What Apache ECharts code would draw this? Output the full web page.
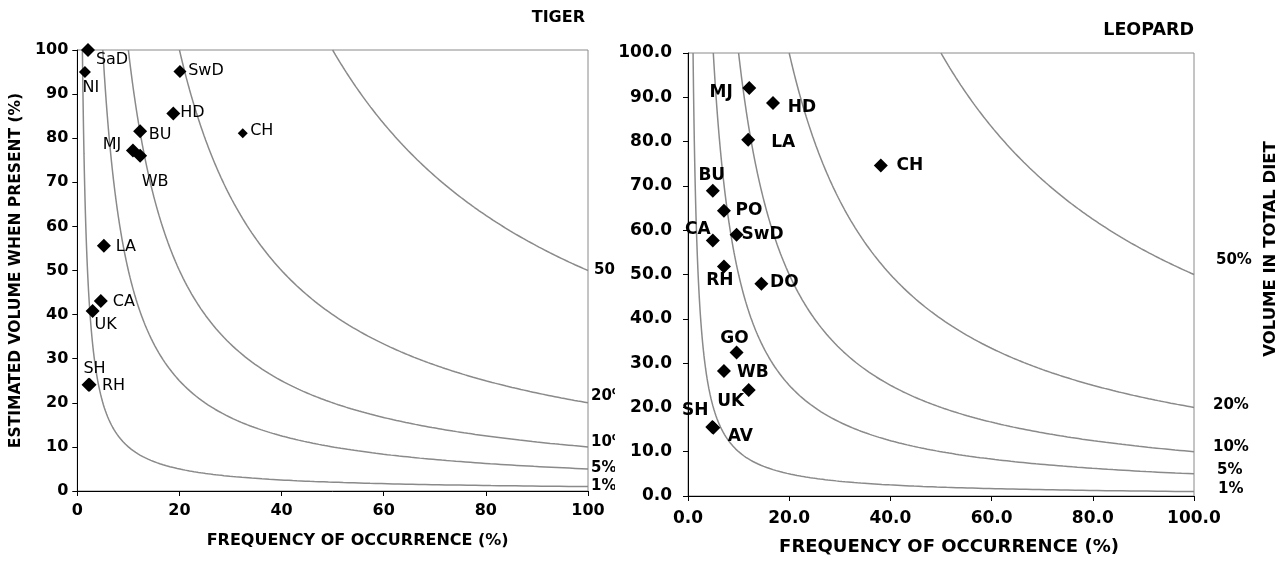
<!DOCTYPE html>
<html>
<head>
<meta charset="utf-8">
<script src="https://cdn.jsdelivr.net/npm/echarts@6/dist/echarts.min.js"></script>
<style>
  body { margin: 0; background: #fff; }
  #tiger { position: absolute; left: 0; top: 0; width: 615px; height: 563px; }
  #leopard { position: absolute; left: 615px; top: 0; width: 671px; height: 563px; }
</style>
</head>
<body>
<div id="tiger"></div>
<div id="leopard"></div>
<script>
// 数据
const tigerPrey = ['SaD', 'NI', 'SwD', 'HD', 'BU', 'CH', 'MJ', 'WB', 'LA', 'CA', 'UK', 'SH', 'RH']
const tigerFreq = [2.1, 1.5, 20.1, 18.8, 12.3, 32.4, 10.9, 12.3, 5.2, 4.6, 3.0, 2.2, 2.4]
const tigerVol = [100, 95, 95.1, 85.6, 81.6, 81.1, 77.2, 76.0, 55.6, 43.1, 40.8, 24.1, 24.1]

const leopardPrey = ['MJ', 'HD', 'LA', 'CH', 'BU', 'PO', 'SwD', 'CA', 'RH', 'DO', 'GO', 'WB', 'UK', 'SH', 'AV']
const leopardFreq = [12.1, 16.8, 11.9, 38.1, 4.9, 7.1, 9.6, 4.9, 7.1, 14.5, 9.6, 7.1, 12.0, 4.8, 5.0]
const leopardVol = [92.1, 88.7, 80.4, 74.6, 68.9, 64.4, 59.0, 57.7, 51.8, 47.9, 32.4, 28.2, 23.9, 15.6, 15.4]

// volume in total diet (%) isolines
const isoLevels = [1, 5, 10, 20, 50]
const isoLabels = ['1%', '5%', '10%', '20%', '50%']

const freqTicks = [0, 20, 40, 60, 80, 100]
const volTicks = [0, 10, 20, 30, 40, 50, 60, 70, 80, 90, 100]

const FONT = 'DejaVu Sans'

// label placement (text centre relative to marker)
const tigerLabelOffset = {
  SaD: [24, 10], NI: [6, 16], SwD: [26, -1], HD: [19, -1], BU: [20, 4], CH: [19, -3],
  MJ: [-21, -6], WB: [15, 26], LA: [22, 1], CA: [23, 1], UK: [13, 14], SH: [6, -16], RH: [24, 1]
}
const tigerSymbol = { CH: 10, NI: 12, SwD: 13 }
const leopardLabelOffset = {
  MJ: [-28, 5], HD: [29, 5], LA: [35, 3], CH: [29, 0], BU: [-1, -15], PO: [25, 0],
  SwD: [26, 0], CA: [-15, -11], RH: [-4, 14], DO: [23, -1], GO: [-2, -14], WB: [29, 2],
  UK: [-18, 11], SH: [-17, -16], AV: [27, 9]
}
const tigerIsoLabel = { 1: [3, 0], 5: [3, -1], 10: [3, -5], 20: [3, -7], 50: [6, 0] }
const leopardIsoLabel = { 1: [24, -2], 5: [23, -4], 10: [19, -5], 20: [19, -2], 50: [22, -14] }

function isoCurve (level) {
  const pts = []
  for (let i = 0; i <= 240; i++) {
    const x = level * Math.pow(100 / level, i / 240)
    pts.push([x, 100 * level / x])
  }
  return pts
}

function makeOption (cfg) {
  const series = isoLevels.map(level => ({
    type: 'line',
    data: isoCurve(level),
    showSymbol: false,
    silent: true,
    clip: true,
    lineStyle: { color: '#8a8a8a', width: 1.5 },
    z: 1
  }))
  series.push({
    type: 'scatter',
    symbolSize: 0,
    silent: true,
    itemStyle: { opacity: 1 },
    data: isoLevels.map((level, i) => ({
      name: isoLabels[i],
      value: [100, level],
      label: {
        distance: cfg.isoLabel[level][0],
        offset: [0, cfg.isoLabel[level][1]]
      }
    })),
    label: {
      show: true,
      position: 'right',
      formatter: '{b}',
      color: '#000',
      fontWeight: 'bold',
      fontSize: cfg.isoFont,
      fontFamily: FONT
    }
  })
  series.push({
    type: 'scatter',
    symbol: 'diamond',
    itemStyle: { color: '#000', opacity: 1 },
    z: 5,
    data: cfg.prey.map((name, i) => ({
      name: name,
      value: [cfg.freq[i], cfg.vol[i]],
      symbolSize: cfg.symbol[name] || 14,
      label: { offset: cfg.labelOffset[name] }
    })),
    label: {
      show: true,
      position: 'inside',
      formatter: '{b}',
      color: '#000',
      fontWeight: cfg.labelWeight,
      fontSize: cfg.labelFont,
      fontFamily: FONT
    }
  })
  return {
    animation: false,
    title: {
      text: cfg.title,
      right: cfg.titleRight,
      top: cfg.titleTop,
      textStyle: { color: '#000', fontWeight: 'bold', fontSize: cfg.titleFont, fontFamily: FONT }
    },
    grid: Object.assign({ show: true, borderColor: '#8a8a8a', borderWidth: 1 }, cfg.grid),
    xAxis: {
      type: 'value',
      min: freqTicks[0],
      max: freqTicks[freqTicks.length - 1],
      interval: freqTicks[1] - freqTicks[0],
      name: 'FREQUENCY OF OCCURRENCE (%)',
      nameLocation: 'middle',
      nameGap: cfg.xNameGap,
      nameTextStyle: { color: '#000', fontWeight: 'bold', fontSize: cfg.xNameFont, fontFamily: FONT, padding: [0, 0, 0, cfg.xNameShift] },
      axisLine: { show: true, onZero: false, lineStyle: { color: '#000', width: 1 } },
      axisTick: { show: true, length: 5, lineStyle: { color: '#000' } },
      splitLine: { show: false },
      axisLabel: {
        color: '#000', fontWeight: 'bold', fontSize: cfg.tickFont, fontFamily: FONT, margin: cfg.xMargin,
        formatter: v => v.toFixed(cfg.decimals)
      }
    },
    yAxis: {
      type: 'value',
      min: volTicks[0],
      max: volTicks[volTicks.length - 1],
      interval: volTicks[1] - volTicks[0],
      name: cfg.yName,
      nameLocation: 'middle',
      nameGap: cfg.yNameGap,
      nameTextStyle: { color: '#000', fontWeight: 'bold', fontSize: cfg.yNameFont, fontFamily: FONT },
      axisLine: { show: true, onZero: false, lineStyle: { color: '#000', width: 1 } },
      axisTick: { show: true, length: 5, lineStyle: { color: '#000' } },
      splitLine: { show: false },
      axisLabel: {
        color: '#000', fontWeight: 'bold', fontSize: cfg.tickFont, fontFamily: FONT, margin: cfg.yMargin,
        formatter: v => v.toFixed(cfg.decimals)
      }
    },
    graphic: cfg.graphic || [],
    series: series
  }
}

const tigerChart = echarts.init(document.getElementById('tiger'))
tigerChart.setOption(makeOption({
  prey: tigerPrey, freq: tigerFreq, vol: tigerVol,
  labelOffset: tigerLabelOffset, symbol: tigerSymbol, isoLabel: tigerIsoLabel,
  title: 'TIGER', titleRight: 25, titleTop: 5, titleFont: 16,
  grid: { left: 72, right: 27, top: 50, bottom: 72 },
  tickFont: 16, decimals: 0, xMargin: 12, yMargin: 9,
  xNameGap: 42, xNameFont: 16, xNameShift: 50,
  yName: 'ESTIMATED VOLUME WHEN PRESENT (%)', yNameGap: 45, yNameFont: 15.5,
  labelFont: 16, labelWeight: 'normal', isoFont: 15
}))

const leopardChart = echarts.init(document.getElementById('leopard'))
leopardChart.setOption(makeOption({
  prey: leopardPrey, freq: leopardFreq, vol: leopardVol,
  labelOffset: leopardLabelOffset, symbol: {}, isoLabel: leopardIsoLabel,
  title: 'LEOPARD', titleRight: 87, titleTop: 16, titleFont: 17.5,
  grid: { left: 73, right: 92, top: 53, bottom: 67 },
  tickFont: 17, decimals: 1, xMargin: 14, yMargin: 16,
  xNameGap: 42, xNameFont: 18, xNameShift: 16,
  yName: '', yNameGap: 0, yNameFont: 16,
  labelFont: 17, labelWeight: 'bold', isoFont: 15,
  graphic: [{
    type: 'text',
    x: 656,
    y: 249,
    rotation: Math.PI / 2,
    style: {
      text: 'VOLUME IN TOTAL DIET',
      font: 'bold 16.5px "DejaVu Sans"',
      fill: '#000',
      align: 'center',
      verticalAlign: 'middle'
    }
  }]
}))
</script>
</body>
</html>
